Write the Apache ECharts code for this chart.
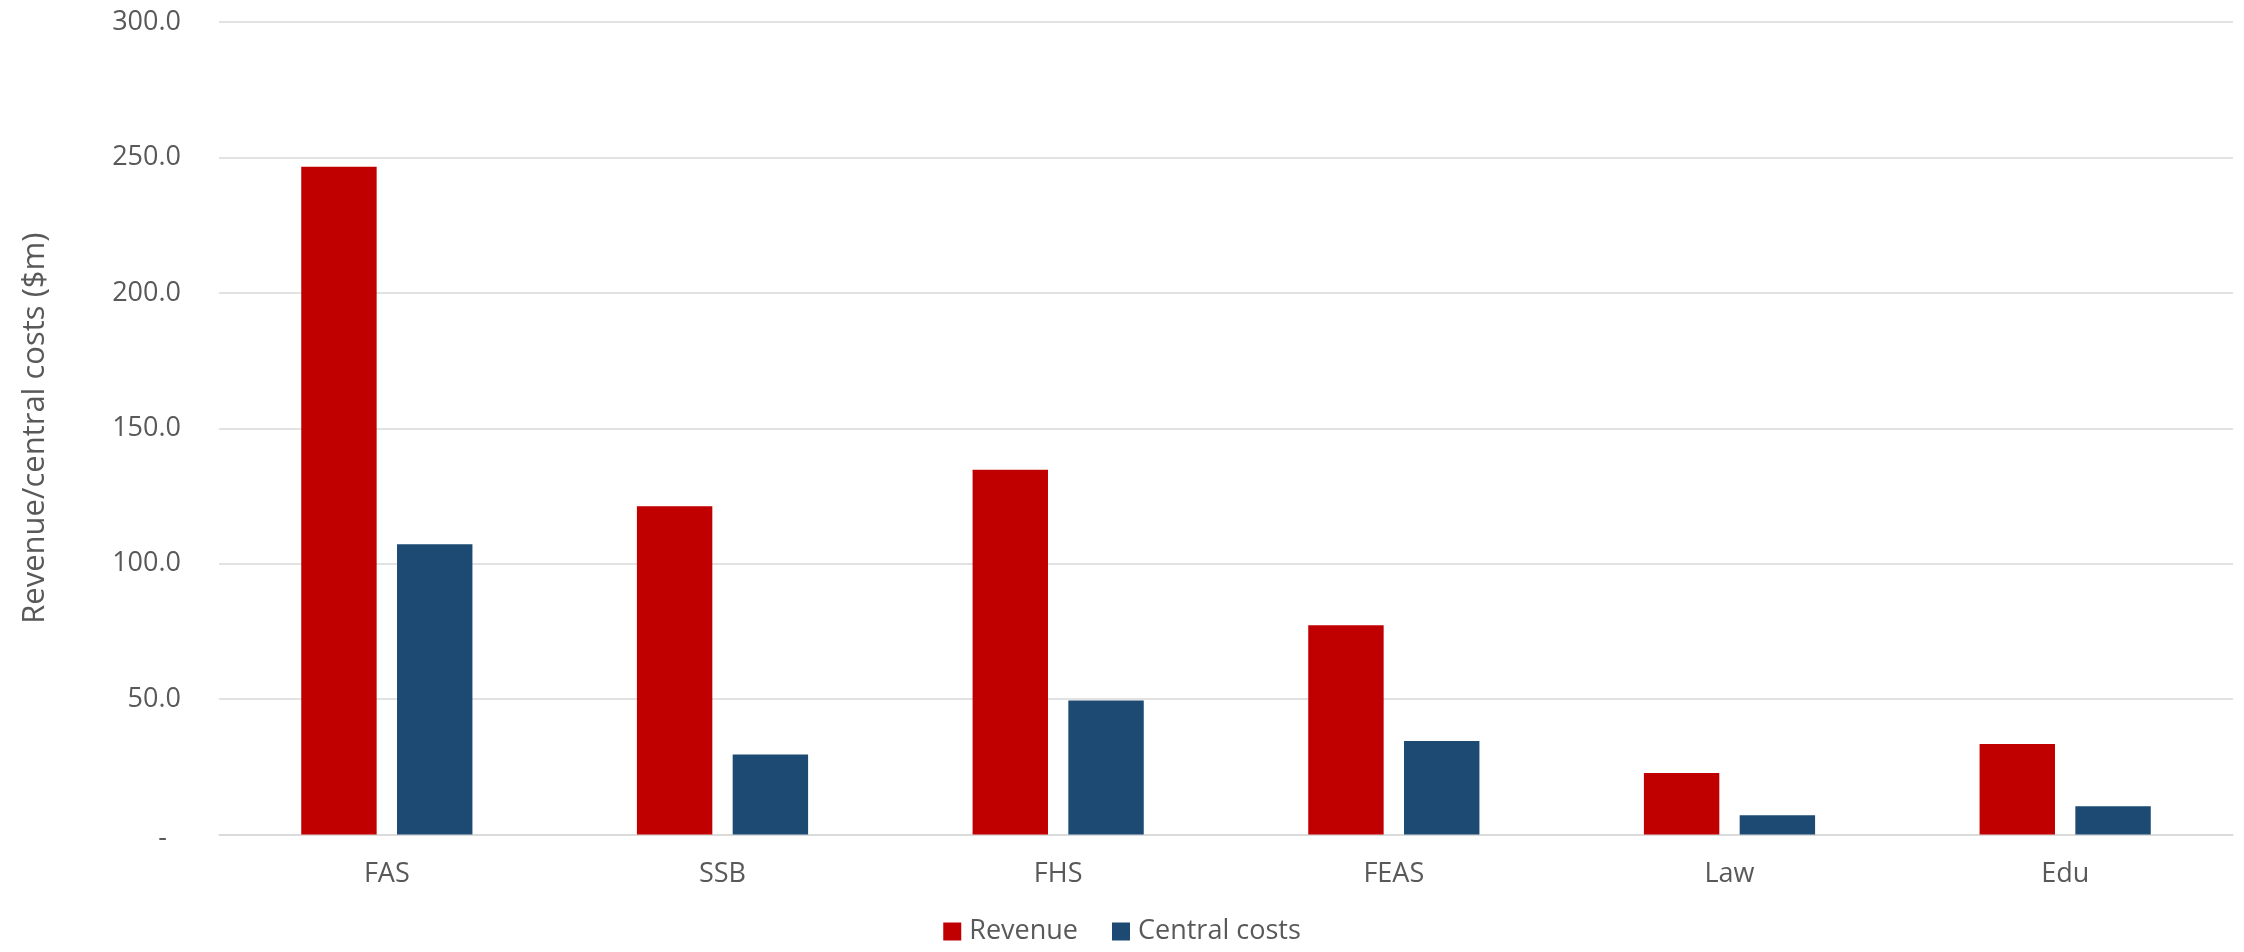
<!DOCTYPE html>
<html>
<head>
<meta charset="utf-8">
<title>Revenue and central costs by faculty</title>
<script src="https://cdn.jsdelivr.net/npm/echarts@6/dist/echarts.min.js"></script>
<style>
  html, body { margin: 0; padding: 0; background: #ffffff; }
  #chart { width: 2244px; height: 952px; }
</style>
</head>
<body>
<div id="chart"></div>
<script>
// Faculties along the x axis
const categories = ['FAS', 'SSB', 'FHS', 'FEAS', 'Law', 'Edu'];
// Values in $m
const revenue = [246.6, 121.2, 134.7, 77.3, 22.7, 33.4];
const centralCosts = [107.2, 29.5, 49.5, 34.5, 7.1, 10.4];
const seriesNames = ['Revenue', 'Central costs'];
const yAxisTitle = 'Revenue/central costs ($m)';

const FONT = '"Open Sans", "Liberation Sans", sans-serif';
const TEXT = '#595959';
const GRID = '#d9d9d9';

const chart = echarts.init(document.getElementById('chart'), null, { renderer: 'canvas' });

chart.setOption({
  animation: false,
  backgroundColor: '#ffffff',
  textStyle: { fontFamily: FONT, color: TEXT },
  grid: { left: 219, right: 11, top: 22, bottom: 117.5, containLabel: false },
  legend: {
    data: seriesNames,
    left: 'center',
    bottom: 2,
    icon: 'rect',
    itemWidth: 18,
    itemHeight: 18,
    itemGap: 34,
    textStyle: { fontFamily: FONT, fontSize: 27, color: TEXT, padding: [0, 0, 0, 3] }
  },
  xAxis: {
    type: 'category',
    data: categories,
    axisTick: { show: false },
    axisLine: { show: true, lineStyle: { color: GRID, width: 1.5 } },
    axisLabel: { fontFamily: FONT, fontSize: 27, color: TEXT, margin: 26 }
  },
  yAxis: {
    type: 'value',
    min: 0,
    max: 300,
    interval: 50,
    name: yAxisTitle,
    nameLocation: 'middle',
    nameRotate: 90,
    nameGap: 168,
    nameTextStyle: { fontFamily: FONT, fontSize: 31, color: TEXT },
    axisLine: { show: false },
    axisTick: { show: false },
    splitLine: { lineStyle: { color: GRID, width: 1.5 } },
    axisLabel: {
      fontFamily: FONT,
      fontSize: 27,
      color: TEXT,
      margin: 38,
      formatter: function (v) {
        return v === 0 ? '{dash|-}' : v.toFixed(1);
      },
      rich: {
        dash: { fontFamily: FONT, fontSize: 27, color: TEXT, padding: [8, 14, 0, 0] }
      }
    }
  },
  series: [
    {
      name: seriesNames[0],
      type: 'bar',
      data: revenue,
      barGap: '27%',
      barCategoryGap: '49%',
      itemStyle: { color: '#c00000' }
    },
    {
      name: seriesNames[1],
      type: 'bar',
      data: centralCosts,
      barGap: '27%',
      barCategoryGap: '49%',
      itemStyle: { color: '#1c4a73' }
    }
  ]
});
</script>
</body>
</html>
